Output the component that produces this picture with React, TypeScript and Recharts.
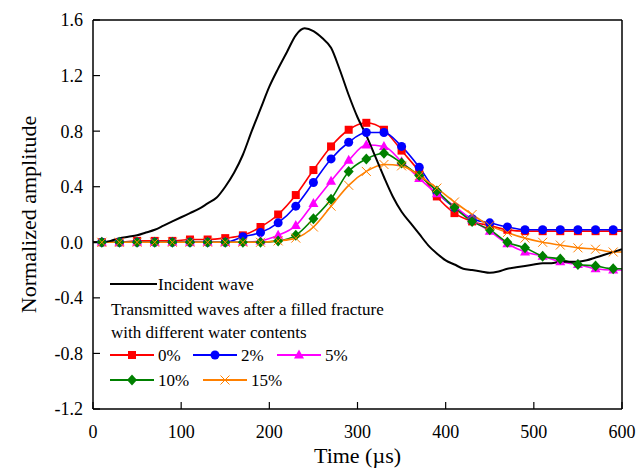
import { Legend, Line, LineChart, XAxis, YAxis } from "recharts";

const FONT = "'Liberation Serif', 'Times New Roman', Times, 'DejaVu Serif', serif";

// incident wave, sampled every 10 µs
const incidentTime = [
  0, 10, 20, 30, 40, 50, 60, 70, 80, 90, 100, 110, 120, 130, 140, 150, 160, 170, 180, 190, 200,
  210, 220, 230, 240, 250, 260, 270, 280, 290, 300, 310, 320, 330, 340, 350, 360, 370, 380, 390,
  400, 410, 420, 430, 440, 450, 460, 470, 480, 490, 500, 510, 520, 530, 540, 550, 560, 570, 580,
  590, 600,
];
const incidentWave = [
  0, 0.0, 0.01, 0.03, 0.04, 0.05, 0.07, 0.09, 0.12, 0.15, 0.18, 0.21, 0.24, 0.28, 0.32, 0.4, 0.5,
  0.63, 0.8, 0.96, 1.12, 1.25, 1.37, 1.49, 1.54, 1.52, 1.47, 1.4, 1.24, 1.06, 0.9, 0.77, 0.62,
  0.47, 0.33, 0.22, 0.14, 0.06, -0.02, -0.08, -0.13, -0.16, -0.19, -0.2, -0.21, -0.22, -0.21,
  -0.19, -0.18, -0.17, -0.16, -0.15, -0.15, -0.14, -0.14, -0.14, -0.13, -0.11, -0.09, -0.07, -0.05,
];

// transmitted waves; markers sit on 10, 30, ... 590
const sampleTime = [
  0, 10, 30, 50, 70, 90, 110, 130, 150, 170, 190, 210, 230, 250, 270, 290, 310, 330, 350, 370,
  390, 410, 430, 450, 470, 490, 510, 530, 550, 570, 590, 600,
];
const water0 = [
  0, 0, 0, 0.01, 0.01, 0.01, 0.02, 0.02, 0.03, 0.05, 0.11, 0.2, 0.34, 0.52, 0.69, 0.81, 0.86, 0.81,
  0.66, 0.51, 0.33, 0.21, 0.15, 0.12, 0.09, 0.08, 0.08, 0.08, 0.08, 0.08, 0.08, 0.08,
];
const water2 = [
  0, 0, 0, 0, 0, 0, 0, 0, 0, 0.04, 0.07, 0.14, 0.26, 0.43, 0.6, 0.72, 0.79, 0.79, 0.69, 0.54, 0.36,
  0.25, 0.17, 0.14, 0.11, 0.09, 0.09, 0.09, 0.09, 0.09, 0.09, 0.09,
];
const water5 = [
  0, 0, 0, 0, 0, 0, 0, 0, 0, 0, 0.01, 0.05, 0.12, 0.28, 0.44, 0.59, 0.7, 0.69, 0.58, 0.46, 0.35,
  0.26, 0.16, 0.08, -0.01, -0.07, -0.1, -0.14, -0.16, -0.19, -0.2, -0.2,
];
const water10 = [
  0, 0, 0, 0, 0, 0, 0, 0, 0, 0, 0, 0.01, 0.05, 0.17, 0.31, 0.51, 0.6, 0.64, 0.57, 0.48, 0.37, 0.25,
  0.15, 0.09, 0.0, -0.04, -0.1, -0.12, -0.16, -0.17, -0.19, -0.19,
];
const water15 = [
  0, 0, 0, 0, 0, 0, 0, 0, 0, 0, 0, 0.01, 0.03, 0.11, 0.26, 0.41, 0.51, 0.56, 0.55, 0.48, 0.39,
  0.29, 0.2, 0.12, 0.07, 0.03, 0.0, -0.02, -0.04, -0.05, -0.07, -0.07,
];

const xMajor = [0, 100, 200, 300, 400, 500, 600];
const xMinor = [50, 150, 250, 350, 450, 550];
const yMajor = [-1.2, -0.8, -0.4, 0, 0.4, 0.8, 1.2, 1.6];
const yMinor = [-1.0, -0.6, -0.2, 0.2, 0.6, 1.0, 1.4];

const incidentRows = incidentTime.map((t, i) => ({ t, v: incidentWave[i] }));
const transmittedRows = sampleTime.map((t, i) => ({
  t,
  w0: water0[i],
  w2: water2[i],
  w5: water5[i],
  w10: water10[i],
  w15: water15[i],
}));

type Shape = "square" | "circle" | "triangle" | "diamond" | "cross";

const SERIES: { key: string; name: string; color: string; shape: Shape }[] = [
  { key: "w0", name: "0%", color: "#ff0000", shape: "square" },
  { key: "w2", name: "2%", color: "#0000ff", shape: "circle" },
  { key: "w5", name: "5%", color: "#ff00ff", shape: "triangle" },
  { key: "w10", name: "10%", color: "#008000", shape: "diamond" },
  { key: "w15", name: "15%", color: "#ff8000", shape: "cross" },
];

function Marker({ shape, cx, cy, color }: { shape: Shape; cx: number; cy: number; color: string }) {
  switch (shape) {
    case "square":
      return <rect x={cx - 4} y={cy - 4} width={8} height={8} fill={color} />;
    case "circle":
      return <circle cx={cx} cy={cy} r={4.5} fill={color} />;
    case "triangle":
      return (
        <polygon
          points={`${cx},${cy - 5.5} ${cx + 5},${cy + 3.5} ${cx - 5},${cy + 3.5}`}
          fill={color}
        />
      );
    case "diamond":
      return (
        <polygon
          points={`${cx},${cy - 5.5} ${cx + 5},${cy} ${cx},${cy + 5.5} ${cx - 5},${cy}`}
          fill={color}
        />
      );
    default:
      return (
        <path
          d={`M${cx - 4.5},${cy - 4.5}L${cx + 4.5},${cy + 4.5}M${cx - 4.5},${cy + 4.5}L${cx + 4.5},${cy - 4.5}`}
          stroke={color}
          strokeWidth={1}
          fill="none"
        />
      );
  }
}

// only every other sample (10, 30, ...) carries a symbol
const makeDot = (shape: Shape, color: string) => (props: any) => {
  const { cx, cy, payload, index } = props;
  if (payload.t % 20 !== 10 || cx == null || cy == null) return <g key={`e${index}`} />;
  return (
    <g key={`d${index}`}>
      <Marker shape={shape} cx={cx} cy={cy} color={color} />
    </g>
  );
};

const textStyle = { fontFamily: FONT, fontSize: 17, fill: "#000" };

function LegendBox() {
  const row4 = SERIES.slice(0, 3);
  const row5 = SERIES.slice(3);
  const item = (s: (typeof SERIES)[number], x0: number, y: number) => (
    <g key={s.key}>
      <line x1={x0} x2={x0 + 44} y1={y} y2={y} stroke={s.color} strokeWidth={2} />
      <Marker shape={s.shape} cx={x0 + 22} cy={y} color={s.color} />
      <text x={x0 + 48} y={y} dominantBaseline="central" fontFamily={FONT} style={textStyle}>
        {s.name}
      </text>
    </g>
  );
  return (
    <svg width={300} height={125} style={{ display: "block" }}>
      <line x1={10} x2={57} y1={14} y2={14} stroke="#000" strokeWidth={2} />
      <text x={58} y={14} dominantBaseline="central" fontFamily={FONT} style={textStyle}>
        Incident wave
      </text>
      <text x={11} y={39} dominantBaseline="central" fontFamily={FONT} style={textStyle}>
        Transmitted waves after a filled fracture
      </text>
      <text x={11} y={62} dominantBaseline="central" fontFamily={FONT} style={textStyle}>
        with different water contents
      </text>
      {row4.map((s, i) => item(s, [10, 93, 177][i], 85))}
      {row5.map((s, i) => item(s, [10, 103][i], 110))}
    </svg>
  );
}

const tickStyle = { fontFamily: FONT, fontSize: 18, fill: "#000" };
const titleStyle = { fontFamily: FONT, fontSize: 22, fill: "#000" };
const axisLine = { stroke: "#000", strokeWidth: 1.5 };
const tickLine = { stroke: "#000", strokeWidth: 1.2 };

// axes have 1px boxes (0 would not be drawn); margins account for them so
// the plot area spans x 93..622, y 20..409
export default function App() {
  return (
    <div style={{ width: 636, height: 471, background: "#fff", fontFamily: FONT }}>
      <style>{"body{margin:0}"}</style>
      <LineChart width={636} height={471} margin={{ top: 18, right: 12, bottom: 60, left: 91 }}>
        <XAxis
          xAxisId="x"
          dataKey="t"
          type="number"
          domain={[0, 600]}
          allowDataOverflow
          ticks={xMajor}
          interval={0}
          height={1}
          tickSize={-7}
          tickMargin={23}
          axisLine={axisLine}
          tickLine={tickLine}
          tick={tickStyle}
          label={{ value: "Time (µs)", position: "bottom", offset: 37, style: titleStyle }}
        />
        <XAxis
          xAxisId="xm"
          type="number"
          domain={[0, 600]}
          allowDataOverflow
          ticks={xMinor}
          interval={0}
          height={1}
          tickSize={-5}
          axisLine={false}
          tickLine={tickLine}
          tick={false}
        />
        <XAxis
          xAxisId="xt"
          orientation="top"
          type="number"
          domain={[0, 600]}
          allowDataOverflow
          ticks={xMajor}
          interval={0}
          height={1}
          tickSize={-7}
          axisLine={axisLine}
          tickLine={tickLine}
          tick={false}
        />
        <XAxis
          xAxisId="xtm"
          orientation="top"
          type="number"
          domain={[0, 600]}
          allowDataOverflow
          ticks={xMinor}
          interval={0}
          height={1}
          tickSize={-5}
          axisLine={false}
          tickLine={tickLine}
          tick={false}
        />
        <YAxis
          yAxisId="y"
          type="number"
          domain={[-1.2, 1.6]}
          allowDataOverflow
          ticks={yMajor}
          interval={0}
          width={1}
          tickSize={-7}
          tickMargin={17}
          axisLine={axisLine}
          tickLine={tickLine}
          tick={tickStyle}
          tickFormatter={(v: number) => v.toFixed(1)}
          label={{
            value: "Normalized amplitude",
            angle: -90,
            position: "left",
            offset: 64,
            style: { ...titleStyle, textAnchor: "middle" },
          }}
        />
        <YAxis
          yAxisId="ym"
          type="number"
          domain={[-1.2, 1.6]}
          allowDataOverflow
          ticks={yMinor}
          interval={0}
          width={1}
          tickSize={-5}
          axisLine={false}
          tickLine={tickLine}
          tick={false}
        />
        <YAxis
          yAxisId="yr"
          orientation="right"
          type="number"
          domain={[-1.2, 1.6]}
          allowDataOverflow
          ticks={yMajor}
          interval={0}
          width={1}
          tickSize={-7}
          axisLine={axisLine}
          tickLine={tickLine}
          tick={false}
        />
        <YAxis
          yAxisId="yrm"
          orientation="right"
          type="number"
          domain={[-1.2, 1.6]}
          allowDataOverflow
          ticks={yMinor}
          interval={0}
          width={1}
          tickSize={-5}
          axisLine={false}
          tickLine={tickLine}
          tick={false}
        />
        {SERIES.map((s) => (
          <Line
            key={s.key}
            xAxisId="x"
            yAxisId="y"
            data={transmittedRows}
            dataKey={s.key}
            name={s.name}
            type="monotone"
            stroke={s.color}
            strokeWidth={1.6}
            dot={makeDot(s.shape, s.color)}
            activeDot={false}
            isAnimationActive={false}
          />
        ))}
        <Line
          xAxisId="x"
          yAxisId="y"
          data={incidentRows}
          dataKey="v"
          name="Incident wave"
          type="monotone"
          stroke="#000"
          strokeWidth={2}
          dot={false}
          activeDot={false}
          isAnimationActive={false}
        />
        <Legend
          layout="vertical"
          verticalAlign="middle"
          align="center"
          wrapperStyle={{ left: 100, top: 270, width: 300, height: 125 }}
          content={() => <LegendBox />}
        />
      </LineChart>
    </div>
  );
}
